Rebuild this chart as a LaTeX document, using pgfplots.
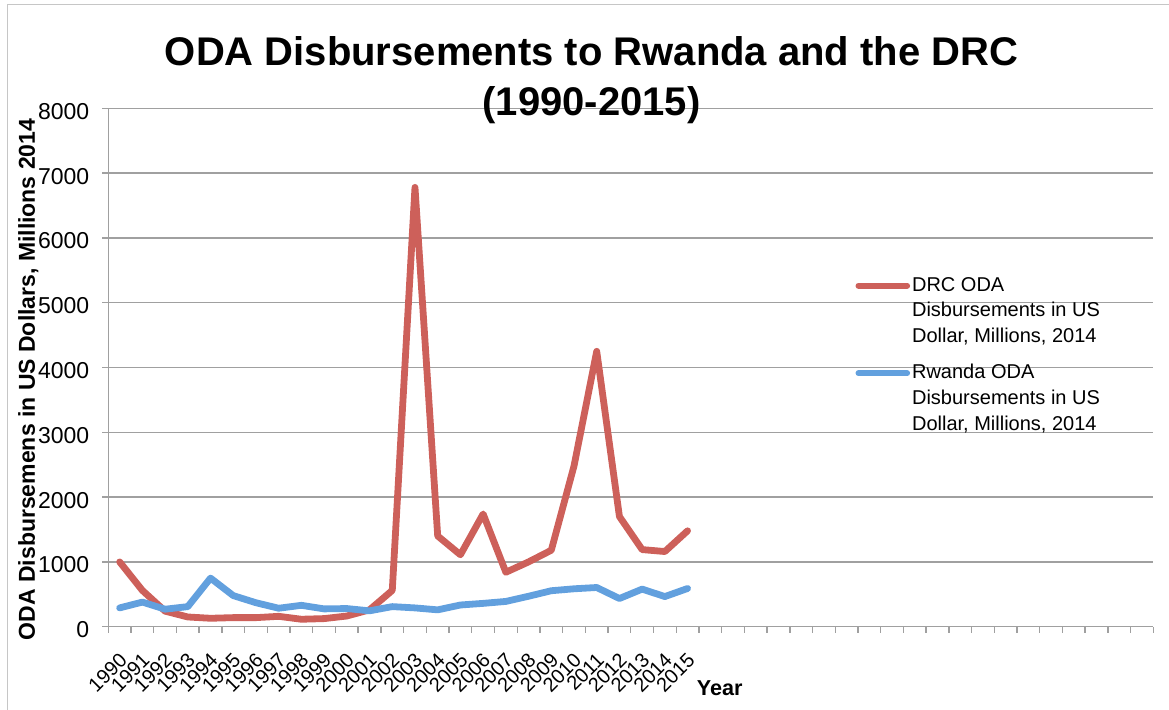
\documentclass[border=0pt]{standalone}
\usepackage{fontspec}
\setmainfont{Liberation Sans}
\usepackage{pgfplots}
\pgfplotsset{compat=1.18}
\definecolor{drc}{RGB}{205,96,90}
\definecolor{rwa}{RGB}{98,160,222}
\definecolor{gridgray}{RGB}{160,160,160}
\begin{document}
\begin{tikzpicture}
\useasboundingbox (-54.15pt,-41.15pt) rectangle (530.35pt,313.35pt);
\draw[gray!45, line width=0.6pt] (-50.3pt,-45pt) -- (-50.3pt,311pt) -- (535pt,311pt);
\begin{axis}[
  at={(0pt,0pt)}, anchor=south west,
  scale only axis, width=522.5pt, height=259.2pt,
  xmin=-0.5, xmax=45.5, ymin=0, ymax=8000,
  axis lines*=left,
  axis line style={gridgray, line width=0.7pt},
  tick align=outside,
  major tick length=3pt,
  tick style={gridgray, line width=0.7pt},
  ymajorgrids=true,
  grid style={gridgray, line width=0.7pt},
  ytick={0,1000,...,8000},
  xtick={-0.5,0.5,...,45.5},
  xticklabels={},
  extra x ticks={0,1,...,25},
  extra x tick labels={1990,1991,1992,1993,1994,1995,1996,1997,1998,1999,2000,2001,2002,2003,2004,2005,2006,2007,2008,2009,2010,2011,2012,2013,2014,2015},
  extra x tick style={major tick length=0pt},
  /pgf/number format/1000 sep={},
  /pgf/number format/assume math mode=true,
  yticklabel style={font=\fontsize{11.5}{13}\selectfont, xshift=-3pt, yshift=-1.5pt},
  xticklabel style={font=\fontsize{10}{11}\selectfont, xshift=-0.7pt, yshift=-7.5pt, rotate=45, anchor=north east},
  ylabel={ODA Disbursemens in US Dollars, Millions 2014},
  ylabel style={font=\fontsize{11.5}{13}\selectfont\bfseries, at={(axis description cs:-0.0702,0.477)}, anchor=base},
  xlabel={Year},
  xlabel style={font=\fontsize{10.8}{13}\selectfont\bfseries, at={(axis description cs:0.585,-0.132)}, anchor=base},
  title={ODA Disbursements to Rwanda and the DRC\\(1990-2015)},
  title style={font=\fontsize{20}{25}\selectfont\bfseries, align=center, at={(axis description cs:0.4625,0.9633)}, anchor=base},
  legend style={at={(axis description cs:0.7114,0.679)}, anchor=north west, draw=none, fill=none,
    font=\fontsize{10}{12.85}\selectfont, cells={align=left}, row sep=7.5pt, inner sep=0pt,
    nodes={inner sep=1pt}},
  legend image code/.code={\path (0pt,-12.85pt); \draw[#1, line width=3pt, line cap=round] (1.5pt,12.85pt) -- (25.8pt,12.85pt);},
]
\addplot[drc, line width=3.4pt, line join=round, line cap=round] coordinates {
(0,1000) (1,560) (2,240) (3,150) (4,130) (5,140) (6,140) (7,160) (8,115) (9,125)
(10,165) (11,260) (12,560) (13,6780) (14,1400) (15,1110) (16,1740) (17,840) (18,1000) (19,1180)
(20,2480) (21,4250) (22,1700) (23,1190) (24,1160) (25,1480)};
\addlegendentry{DRC ODA\\Disbursements in US\\Dollar, Millions, 2014}
\addplot[rwa, line width=3.4pt, line join=round, line cap=round] coordinates {
(0,290) (1,380) (2,270) (3,310) (4,750) (5,480) (6,370) (7,285) (8,330) (9,275)
(10,280) (11,245) (12,310) (13,290) (14,260) (15,335) (16,360) (17,390) (18,470) (19,555)
(20,585) (21,605) (22,435) (23,580) (24,465) (25,590)};
\addlegendentry{Rwanda ODA\\Disbursements in US\\Dollar, Millions, 2014}
\end{axis}
\end{tikzpicture}
\end{document}
